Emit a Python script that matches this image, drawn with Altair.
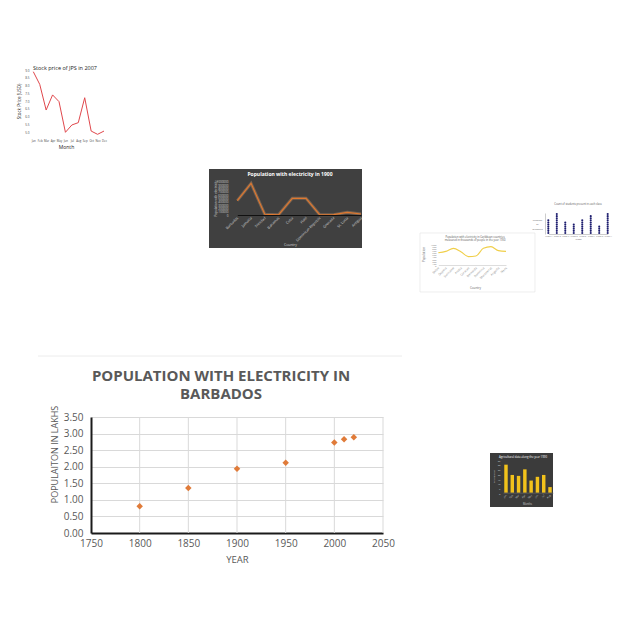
import altair as alt
import pandas as pd

# ---------------- data ----------------
# main chart
years = [1800, 1850, 1900, 1950, 2000, 2010, 2020]
pop_lakhs = [0.81, 1.36, 1.94, 2.12, 2.73, 2.83, 2.89]
year_ticks = [1750, 1800, 1850, 1900, 1950, 2000, 2050]
pop_ticks = [0.0, 0.5, 1.0, 1.5, 2.0, 2.5, 3.0, 3.5]

# stock thumbnail
months = ["Jan", "Feb", "Mar", "Apr", "May", "Jun", "Jul", "Aug", "Sep", "Oct", "Nov", "Dec"]
stock_price = [8.89, 8.08, 6.43, 7.40, 6.97, 5.00, 5.47, 5.62, 7.22, 5.08, 4.87, 5.08]
stock_ticks = [5.0, 5.5, 6.0, 6.5, 7.0, 7.5, 8.0, 8.5, 9.0]

# dark line thumbnail
countries = ["Barbados", "Jamaica", "Trinidad", "Bahamas", "Cuba", "Haiti",
             "Dominican Republic", "Grenada", "St. Lucia", "Antigua"]
pop_1900 = [430000, 950000, 20000, 5000, 500000, 500000, 5000, 10000, 80000, 30000]

# yellow line thumbnail
yl_cats = ["Belize", "Guyana", "Suriname", "Aruba", "Curacao", "Bermuda",
           "Dominica", "Montserrat", "Anguilla", "Nevis"]
yl_vals = [583, 650, 794, 635, 397, 429, 794, 873, 683, 650]

# dot column thumbnail
dot_cats = ["Class A", "Class B", "Class C", "Class D", "Class E", "Class F", "Class G", "Class H"]
dot_counts = [7, 10, 6, 5, 7, 9, 4, 10]

# dark yellow bar thumbnail
agri_months = ["Jan", "Feb", "Mar", "Apr", "May", "Jun", "Jul", "Aug"]
agri_vals = [30, 19, 18, 25, 13, 17, 19, 6]

# ---------------- layout helpers ----------------
W = H = 624
def P(v):
    return v - 8
def off_bottom(y_page):
    return P(y_page) - H
def off_left(x_page):
    return -P(x_page)

FONT = "Open Sans"
one = pd.DataFrame({"k": [0]})

def bg(x1, x2, y1, y2, fill, stroke=None):
    kw = dict(fill=fill)
    if stroke:
        kw.update(stroke=stroke, strokeWidth=0.6)
    return alt.Chart(one).mark_rect(**kw).encode(
        x=alt.value(P(x1)), x2=alt.value(P(x2)), y=alt.value(P(y1)), y2=alt.value(P(y2)))

def label(text, x, y, size, color, weight="normal", baseline="middle", lh=None):
    kw = dict(fontSize=size, color=color, fontWeight=weight, font=FONT,
              align="center", baseline=baseline)
    if lh:
        kw["lineHeight"] = lh
    return alt.Chart(pd.DataFrame({"t": [text]})).mark_text(**kw).encode(
        text="t:N", x=alt.value(P(x)), y=alt.value(P(y)))

layers = []

# ---------------- main chart ----------------
main_df = pd.DataFrame({"year": years, "pop": pop_lakhs})
xs_main = alt.Scale(domain=[1750, 2050], range=[P(91), P(383)], nice=False, zero=False)
layers.append(alt.Chart(one).mark_rule(color="#ececec", strokeWidth=1).encode(
    x=alt.value(P(38)), x2=alt.value(P(402)), y=alt.value(P(356))))
layers.append(label(["POPULATION WITH ELECTRICITY IN", "BARBADOS"], 221, 380.5, 15,
                    "#595959", "bold", "alphabetic", 18.5))
# vertical grid lines of the main chart
layers.append(alt.Chart(pd.DataFrame({"t": year_ticks[1:]})).mark_rule(color="#d9d9d9", strokeWidth=1).encode(
    x=alt.X("t:Q", scale=xs_main, axis=None),
    y=alt.value(P(417)), y2=alt.value(P(533))))
layers.append(alt.Chart(main_df).mark_point(shape="diamond", filled=True, size=42,
                                            color="#E07B39", opacity=1).encode(
    x=alt.X("year:Q", scale=xs_main,
            axis=alt.Axis(orient="bottom", offset=off_bottom(533), values=year_ticks, format="d",
                          labelFontSize=10, labelColor="#595959", labelFont=FONT, labelPadding=5,
                          labelFlush=False, labelOverlap=False, ticks=False, grid=False,
                          domainColor="#1a1a1a", domainWidth=2,
                          title="YEAR", titleFont=FONT, titleFontSize=9.5, titleColor="#595959",
                          titleFontWeight="normal", titleX=P(237), titleY=559 - 533,
                          titleBaseline="middle", titleAlign="center")),
    y=alt.Y("pop:Q", scale=alt.Scale(domain=[0, 3.5], range=[P(533), P(417)], nice=False, zero=False),
            axis=alt.Axis(orient="left", offset=off_left(91), values=pop_ticks, format=".2f",
                          labelFontSize=10, labelColor="#595959", labelFont=FONT, labelPadding=8,
                          labelFlush=False, labelOverlap=False, ticks=False,
                          domainColor="#1a1a1a", domainWidth=2, gridColor="#d9d9d9", gridWidth=1,
                          title="POPULAITON IN LAKHS", titleFont=FONT, titleFontSize=9,
                          titleColor="#595959", titleFontWeight="normal",
                          titleX=54 - 91, titleY=P(454), titleAngle=270,
                          titleBaseline="middle", titleAlign="center")),
))

# ---------------- stock thumbnail ----------------
stock_df = pd.DataFrame({"m": months, "p": stock_price})
layers.append(label("Stock price of JPS in 2007", 65, 67.7, 5.5, "#222222"))
layers.append(alt.Chart(stock_df).mark_line(color="#e0474c", strokeWidth=1).encode(
    x=alt.X("m:N", sort=months, scale=alt.Scale(type="point", domain=months, range=[P(33.3), P(104)], padding=0),
            axis=alt.Axis(orient="bottom", offset=off_bottom(138), domain=False, ticks=False, grid=False,
                          labelAngle=0, labelFontSize=2.8, labelColor="#444444", labelPadding=1.5,
                          labelOverlap=False, labelFlush=False, labelBaseline="top",
                          title="Month", titleFontSize=5, titleColor="#222222", titleFontWeight="normal",
                          titleX=P(66), titleY=146 - 138, titleBaseline="middle", titleAlign="center")),
    y=alt.Y("p:Q", scale=alt.Scale(domain=[5, 9], range=[P(132.3), P(70)], nice=False, zero=False),
            axis=alt.Axis(orient="left", offset=off_left(30), values=stock_ticks, format=".1f",
                          domain=False, ticks=False, grid=False, labelFontSize=3, labelColor="#444444",
                          labelPadding=1, labelOverlap=False, labelFlush=False,
                          title="Stock Price (USD)", titleFontSize=4.5, titleColor="#222222",
                          titleFontWeight="normal", titleX=19 - 30, titleY=P(101), titleAngle=270,
                          titleBaseline="middle", titleAlign="center")),
))

# ---------------- dark line thumbnail ----------------
dark_df = pd.DataFrame({"c": countries, "v": pop_1900})
layers.append(bg(209, 362, 169, 248, "#404040"))
layers.append(label("Population with electricity in 1900", 290, 174.3, 5, "#ffffff", "bold"))
xs_dark = alt.Scale(type="point", domain=countries, range=[P(237.3), P(361)], padding=0)
ys_dark = alt.Scale(domain=[0, 1000000], range=[P(215), P(181.7)], nice=False, zero=False)
layers.append(alt.Chart(dark_df).mark_line(color="#f6b27a", strokeWidth=3, opacity=0.3).encode(
    x=alt.X("c:N", sort=countries, scale=xs_dark, axis=None),
    y=alt.Y("v:Q", scale=ys_dark, axis=None)))
layers.append(alt.Chart(dark_df).mark_line(color="#e0782f", strokeWidth=1.1).encode(
    x=alt.X("c:N", sort=countries, scale=xs_dark,
            axis=alt.Axis(orient="bottom", offset=off_bottom(215), domainColor="#111111", domainWidth=1,
                          ticks=False, grid=False, labelAngle=-45, labelFontSize=3.6, labelColor="#d4d4d4",
                          labelPadding=2, labelOverlap=False, labelAlign="right", labelBaseline="middle",
                          zindex=1,
                          title="Country", titleFontSize=3.5, titleColor="#d9d9d9", titleFontWeight="normal",
                          titleX=P(290), titleY=244 - 215, titleBaseline="middle", titleAlign="center")),
    y=alt.Y("v:Q", scale=ys_dark,
            axis=alt.Axis(orient="left", offset=off_left(229), tickCount=10, format="d", domain=False,
                          ticks=False, gridColor="#5e5e5e", gridWidth=0.5, labelFontSize=3,
                          labelColor="#d0d0d0", labelPadding=1, labelOverlap=False, labelFlush=False,
                          zindex=1,
                          title="Population with electricity", titleFontSize=3, titleColor="#d9d9d9",
                          titleFontWeight="normal", titleX=215 - 229, titleY=P(198), titleAngle=270,
                          titleBaseline="middle", titleAlign="center")),
))

# ---------------- yellow line thumbnail ----------------
yl_df = pd.DataFrame({"c": yl_cats, "v": yl_vals})
layers.append(bg(420, 535, 233, 292, "#ffffff", "#e3e3e3"))
layers.append(label(["Population with electricity in Caribbean countries",
                     "measured in thousands of people in the year 1950"], 475, 237, 2.6, "#555555", lh=3.2))
layers.append(alt.Chart(yl_df).mark_line(color="#f0cf4a", strokeWidth=1.1, interpolate="monotone").encode(
    x=alt.X("c:N", sort=yl_cats, scale=alt.Scale(type="point", domain=yl_cats, range=[P(438.3), P(506)], padding=0),
            axis=alt.Axis(orient="bottom", offset=off_bottom(265), domainColor="#bbbbbb", domainWidth=0.5,
                          ticks=False, grid=False, labelAngle=-45, labelFontSize=3, labelColor="#888888",
                          labelPadding=2, labelOverlap=False, labelAlign="right", labelBaseline="middle",
                          zindex=1,
                          title="Country", titleFontSize=3, titleColor="#666666", titleFontWeight="normal",
                          titleX=P(475), titleY=287 - 265, titleBaseline="middle", titleAlign="center")),
    y=alt.Y("v:Q", scale=alt.Scale(domain=[0, 1000], range=[P(265), P(244)], nice=False, zero=False),
            axis=alt.Axis(orient="left", offset=off_left(437), tickCount=10, format="d", domain=False,
                          ticks=False, gridColor="#e6e6e6", gridWidth=0.5, labelFontSize=2.5,
                          labelColor="#888888", labelPadding=1, labelOverlap=False, labelFlush=False,
                          zindex=1,
                          title="Population", titleFontSize=3, titleColor="#666666",
                          titleFontWeight="normal", titleX=423 - 437, titleY=P(254), titleAngle=270,
                          titleBaseline="middle", titleAlign="center")),
))

# ---------------- dot column thumbnail ----------------
dot_rows = []
for c, n in zip(dot_cats, dot_counts):
    for k in range(n):
        dot_rows.append({"c": c, "u": k + 0.5})
dot_df = pd.DataFrame(dot_rows)
layers.append(label("Count of students present in each class", 578, 204, 2.6, "#555555"))
layers.append(alt.Chart(dot_df).mark_circle(size=4.5, color="#1c1c6e", opacity=1).encode(
    x=alt.X("c:N", sort=dot_cats, scale=alt.Scale(type="point", domain=dot_cats, range=[P(548.3), P(607.7)], padding=0),
            axis=alt.Axis(orient="bottom", offset=off_bottom(234), domainColor="#999999", domainWidth=0.5,
                          ticks=False, grid=False, labelFontSize=2.2, labelColor="#777777",
                          labelPadding=1, labelOverlap=False, labelAngle=0, zindex=1,
                          title="Class", titleFontSize=2.5, titleColor="#666666", titleFontWeight="normal",
                          titleX=P(578), titleY=238.5 - 234, titleBaseline="middle", titleAlign="center")),
    y=alt.Y("u:Q", scale=alt.Scale(domain=[0, 10], range=[P(234), P(213)], nice=False, zero=False),
            axis=alt.Axis(orient="left", offset=off_left(545), domainColor="#999999", domainWidth=0.5,
                          ticks=False, grid=False, labels=False, zindex=1,
                          title=["Number", "of", "students"], titleFontSize=2.5, titleColor="#666666",
                          titleFontWeight="normal", titleX=537 - 545, titleY=P(219), titleAngle=0,
                          titleBaseline="middle", titleAlign="center")),
))

# ---------------- dark yellow bar thumbnail ----------------
agri_df = pd.DataFrame({"m": agri_months, "v": agri_vals})
layers.append(bg(490, 553, 453, 507, "#3b3b3b"))
layers.append(label("Agricultural data along the year 1990", 523, 456.5, 2.8, "#ffffff"))
layers.append(alt.Chart(agri_df).mark_bar(color="#f2c21b").encode(
    x=alt.X("m:N", sort=agri_months,
            scale=alt.Scale(type="band", domain=agri_months, range=[P(503), P(553)], paddingInner=0.45, paddingOuter=0.2),
            axis=alt.Axis(orient="bottom", offset=off_bottom(492.7), domainColor="#777777", domainWidth=0.5,
                          ticks=False, grid=False, labelAngle=-45, labelFontSize=2.5, labelColor="#cccccc",
                          labelPadding=1.5, labelOverlap=False, labelAlign="right", labelBaseline="middle",
                          zindex=1,
                          title="Months", titleFontSize=2.6, titleColor="#cccccc", titleFontWeight="normal",
                          titleX=P(527), titleY=503.5 - 492.7, titleBaseline="middle", titleAlign="center")),
    y=alt.Y("v:Q", scale=alt.Scale(domain=[0, 35], range=[P(492.7), P(460)], nice=False, zero=True),
            axis=alt.Axis(orient="left", offset=off_left(501), values=[0, 5, 10, 15, 20, 25, 30, 35],
                          domain=False, ticks=False, gridColor="#555555", gridWidth=0.4, labelFontSize=2.5,
                          labelColor="#cccccc", labelPadding=1, labelOverlap=False, labelFlush=False,
                          zindex=1,
                          title="Production", titleFontSize=2.5, titleColor="#cccccc",
                          titleFontWeight="normal", titleX=493.5 - 501, titleY=P(476), titleAngle=270,
                          titleBaseline="middle", titleAlign="center")),
))

chart = alt.layer(*layers).resolve_scale(x="independent", y="independent").properties(
    width=W, height=H, padding=0, autosize=alt.AutoSizeParams(type="none"),
    background="white",
).configure_view(stroke=None).configure_axis(labelFont=FONT, titleFont=FONT)

chart.save("out.html", embed_options={"renderer": "svg", "actions": False})
